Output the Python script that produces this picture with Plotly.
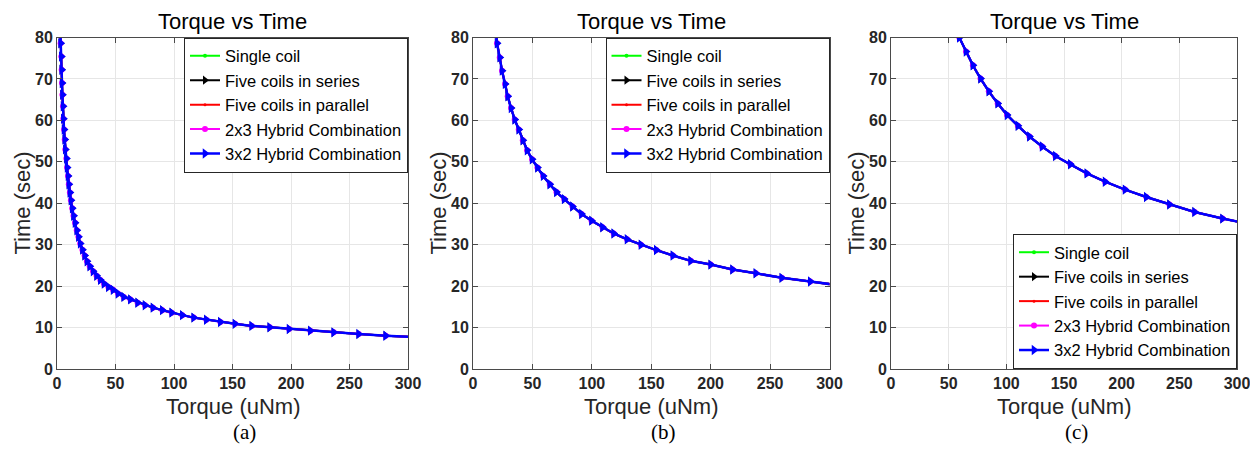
import plotly.graph_objects as go

# ---- data ----
names = ["Single coil", "Five coils in series", "Five coils in parallel",
         "2x3 Hybrid Combination", "3x2 Hybrid Combination"]
colors = ["#00ff00", "#000000", "#ff0000", "#ff00ff", "#0000ff"]
symbols = ["circle", "triangle-right", "circle", "circle", "triangle-right"]
msizes = [4, 8, 3, 6, 9]
lwidths = [2, 2, 2, 2, 2.5]

a_torque = [2.8, 3.1, 3.7, 4.0, 4.3, 4.6, 5.1, 5.4, 6.0, 6.6, 7.1, 8.0, 8.6, 9.4, 10.1, 11.0,
            11.9, 13.0, 14.1, 15.4, 16.9, 18.3, 19.8, 21.7, 23.6, 25.6, 28.0, 30.8, 33.8,
            37.0, 40.2, 43.9, 47.9, 52.1, 57.0, 62.7, 68.9, 75.2, 82.0, 90.0, 98.0, 107.1,
            116.8, 127.6, 139.6, 152.1, 166.4, 181.8, 198.3, 216.5, 236.5, 257.8, 280.9, 306.0]
a_time = [82.0, 78.6, 75.4, 72.2, 69.0, 66.2, 63.4, 60.4, 57.8, 55.4, 53.0, 50.8, 48.6, 46.6,
          44.6, 42.6, 40.7, 38.8, 37.0, 35.3, 33.5, 31.9, 30.3, 28.8, 27.4, 26.0, 24.8, 23.6,
          22.5, 21.5, 20.6, 19.8, 19.1, 18.2, 17.4, 16.8, 16.0, 15.4, 14.8, 14.2, 13.6, 13.0,
          12.4, 11.9, 11.35, 10.9, 10.4, 10.06, 9.65, 9.25, 8.84, 8.43, 8.03, 7.7]

b_torque = [19.3, 20.2, 22.5, 24.4, 27.0, 29.2, 32.0, 35.1, 38.5, 41.9, 45.5, 49.7, 54.2,
            59.0, 64.6, 70.2, 76.7, 83.7, 91.3, 99.7, 109.0, 118.4, 129.6, 141.3, 154.2,
            168.2, 183.2, 200.0, 218.4, 238.0, 259.8, 283.8, 310.8]
b_time = [82.0, 78.6, 75.2, 72.0, 68.8, 65.8, 63.0, 60.2, 57.8, 55.2, 52.8, 50.6, 48.6, 46.6,
          44.6, 42.7, 41.0, 39.2, 37.4, 35.8, 34.2, 32.7, 31.3, 30.0, 28.7, 27.4, 26.1, 25.2,
          24.0, 23.1, 22.0, 21.1, 20.1]

c_torque = [59.2, 65.0, 71.0, 77.6, 84.8, 92.5, 100.6, 110.0, 120.0, 131.0, 142.5, 155.5,
            169.8, 185.6, 202.9, 221.3, 241.4, 263.2, 287.4, 313.8]
c_time = [80.0, 76.6, 73.3, 70.1, 67.0, 64.1, 61.3, 58.7, 56.1, 53.7, 51.4, 49.4, 47.2, 45.2,
          43.3, 41.5, 39.7, 37.9, 36.3, 34.8]

x_ticks = [0, 50, 100, 150, 200, 250, 300]
y_ticks = [0, 10, 20, 30, 40, 50, 60, 70, 80]
panel_labels = ["(a)", "(b)", "(c)"]
title_text = "Torque vs Time"
x_title = "Torque (uNm)"
y_title = "Time (sec)"

# ---- layout geometry (reference pixels; the page body adds an 8 px offset) ----
OFF = 8
W, H = 1258 - OFF, 449 - OFF
x_px = [(57, 408), (473, 829.5), (891, 1237)]
y_top, y_bot = 37.5, 369
SANS = "Liberation Sans, Arial, sans-serif"
SERIF = "Liberation Serif, Times New Roman, serif"


def fx(px):
    return (px - OFF) / W


def fy(py):
    return 1 - (py - OFF) / H


fig = go.Figure()
panels = [(a_torque, a_time), (b_torque, b_time), (c_torque, c_time)]
for p, (tq, tm) in enumerate(panels):
    sfx = "" if p == 0 else str(p + 1)
    for k in range(5):
        fig.add_trace(go.Scatter(
            x=tq, y=tm, mode="lines+markers", name=names[k],
            line=dict(color=colors[k], width=lwidths[k]),
            marker=dict(symbol=symbols[k], size=msizes[k], color=colors[k],
                        line=dict(width=0)),
            xaxis="x" + sfx, yaxis="y" + sfx, legend="legend" + sfx,
        ))

axis_common = dict(
    showline=True, mirror="ticks", linecolor="#4a4a4a", linewidth=1,
    ticks="inside", ticklen=5, tickcolor="#4a4a4a",
    showgrid=True, gridcolor="#e6e6e6", gridwidth=1, zeroline=False,
    tickfont=dict(family=SANS, size=16, color="#262626"),
    automargin=False,
)
layout = dict(
    width=W, height=H, margin=dict(l=0, r=0, t=0, b=0),
    paper_bgcolor="white", plot_bgcolor="white",
    font=dict(family=SANS, color="#262626"),
)
annotations = []
dom_y = [fy(y_bot), fy(y_top)]
for p in range(3):
    sfx = "" if p == 0 else str(p + 1)
    x0, x1 = x_px[p]
    layout["xaxis" + sfx] = dict(axis_common, domain=[fx(x0), fx(x1)], range=[0, 300],
                                 tickvals=x_ticks,
                                 ticktext=["<b>%d</b>" % v for v in x_ticks],
                                 anchor="y" + sfx)
    layout["yaxis" + sfx] = dict(axis_common, domain=dom_y, range=[0, 80],
                                 tickvals=y_ticks,
                                 ticktext=["<b>%d</b>" % v for v in y_ticks],
                                 anchor="x" + sfx)
    cx = (x0 + x1) / 2
    annotations.append(dict(text=title_text, x=fx(cx), y=fy(21.5), xref="paper", yref="paper",
                            showarrow=False, xanchor="center", yanchor="middle",
                            font=dict(family=SANS, size=22, color="#000000")))
    annotations.append(dict(text=x_title, x=fx(cx), y=fy(406), xref="paper", yref="paper",
                            showarrow=False, xanchor="center", yanchor="middle",
                            font=dict(family=SANS, size=22, color="#262626")))
    annotations.append(dict(text=y_title, x=fx(x0 - 35.5), y=fy(203), xref="paper",
                            yref="paper", showarrow=False, textangle=-90,
                            xanchor="center", yanchor="middle",
                            font=dict(family=SANS, size=22, color="#262626")))
    annotations.append(dict(text=panel_labels[p], x=fx(cx + 12), y=fy(432),
                            xref="paper", yref="paper", showarrow=False,
                            xanchor="center", yanchor="middle",
                            font=dict(family=SERIF, size=21, color="#000000")))
    leg = dict(bgcolor="white", bordercolor="#262626", borderwidth=1,
               font=dict(family=SANS, size=16.5, color="#000000"),
               itemwidth=30, tracegroupgap=0, xanchor="right",
               x=fx(x1))
    if p < 2:
        leg.update(y=fy(y_top), yanchor="top")
    else:
        leg.update(y=fy(y_bot), yanchor="bottom")
    layout["legend" + sfx] = leg

layout["annotations"] = annotations
fig.update_layout(**layout)
fig.write_html("out.html")
